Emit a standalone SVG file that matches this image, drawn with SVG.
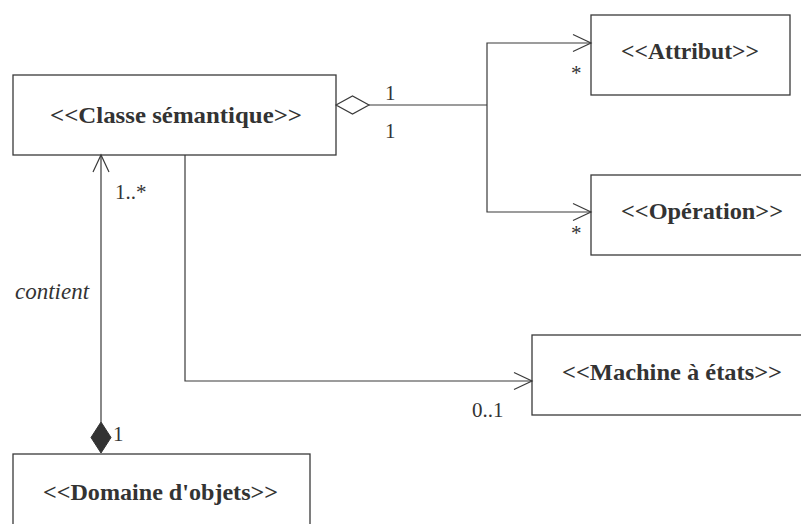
<svg xmlns="http://www.w3.org/2000/svg" width="801" height="524" viewBox="0 0 801 524">
<defs>
<style>
.box{fill:#fff;stroke:#3a3a3a;stroke-width:1.3}
.ln{fill:none;stroke:#3a3a3a;stroke-width:1.2}
</style>
</defs>
<rect width="801" height="524" fill="#fff"/>
<g id="classe">
<rect class="box" x="13" y="75" width="323" height="80"/>
<text font-family="'Times New Roman', 'Liberation Serif', 'DejaVu Serif', serif" font-weight="bold" font-size="24" fill="#333" x="50" y="123" textLength="252" lengthAdjust="spacingAndGlyphs">&lt;&lt;Classe s&#233;mantique&gt;&gt;</text>
</g>
<g id="attribut">
<rect class="box" x="591" y="15" width="199" height="80"/>
<text font-family="'Times New Roman', 'Liberation Serif', 'DejaVu Serif', serif" font-weight="bold" font-size="24" fill="#333" x="621" y="59" textLength="138" lengthAdjust="spacingAndGlyphs">&lt;&lt;Attribut&gt;&gt;</text>
</g>
<g id="operation">
<rect class="box" x="591" y="175" width="230" height="80"/>
<text font-family="'Times New Roman', 'Liberation Serif', 'DejaVu Serif', serif" font-weight="bold" font-size="24" fill="#333" x="621" y="219" textLength="162" lengthAdjust="spacingAndGlyphs">&lt;&lt;Op&#233;ration&gt;&gt;</text>
</g>
<g id="machine">
<rect class="box" x="532" y="335" width="290" height="80"/>
<text font-family="'Times New Roman', 'Liberation Serif', 'DejaVu Serif', serif" font-weight="bold" font-size="24" fill="#333" x="562" y="380" textLength="220" lengthAdjust="spacingAndGlyphs">&lt;&lt;Machine &#224; &#233;tats&gt;&gt;</text>
</g>
<g id="domaine">
<rect class="box" x="13" y="454" width="297" height="100"/>
<text font-family="'Times New Roman', 'Liberation Serif', 'DejaVu Serif', serif" font-weight="bold" font-size="24" fill="#333" x="43" y="500" textLength="235" lengthAdjust="spacingAndGlyphs">&lt;&lt;Domaine d'objets&gt;&gt;</text>
</g>
<g id="connectors">
<polygon class="ln" points="336,105 352.5,96 369,105 352.5,114" style="fill:#fff"/>
<polyline class="ln" points="369,105 487,105"/>
<polyline class="ln" points="591,43 487,43 487,212 591,212"/>
<polyline class="ln" points="573,34.5 591,43 573,51.5"/>
<polyline class="ln" points="573,203.5 591,212 573,220.5"/>
<polyline class="ln" points="185,155 185,381 532,381"/>
<polyline class="ln" points="514,372.5 532,381 514,389.5"/>
<polyline class="ln" points="101,422 101,155"/>
<polyline class="ln" points="93,172 101,155 109,172"/>
<polygon points="101,422 111,437.5 101,453 91,437.5" fill="#333" stroke="#333" stroke-width="1"/>
<g font-family="'Times New Roman', 'Liberation Serif', 'DejaVu Serif', serif" font-size="21" fill="#333">
<text x="385" y="100">1</text>
<text x="385" y="138">1</text>
<text x="571" y="80">*</text>
<text x="571" y="240">*</text>
<text x="115" y="199">1..*</text>
<text x="113" y="441">1</text>
<text x="472" y="417">0..1</text>
<text font-style="italic" font-size="23" x="15" y="299">contient</text>
</g>
</g>
</svg>
